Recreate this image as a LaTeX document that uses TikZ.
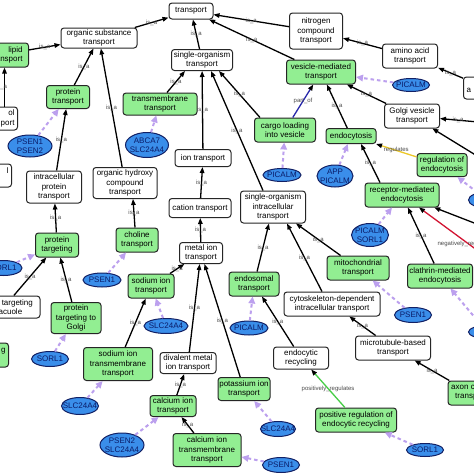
\documentclass[tikz,border=0pt]{standalone}
\usepackage{fontspec}
\setmainfont{Liberation Sans}
\usetikzlibrary{arrows.meta,shapes.geometric}
\definecolor{gogreen}{RGB}{146,238,146}
\definecolor{genefill}{RGB}{58,142,234}
\definecolor{genedraw}{RGB}{18,32,100}
\definecolor{genetext}{RGB}{10,28,105}
\definecolor{annot}{RGB}{188,160,238}
\definecolor{lblgray}{RGB}{75,75,75}
\definecolor{partof}{RGB}{40,40,170}
\definecolor{regyel}{RGB}{236,200,40}
\definecolor{posgreen}{RGB}{70,205,70}
\definecolor{negred}{RGB}{210,20,50}
\tikzset{
  term/.style={rectangle, rounded corners=3pt, draw=black!85, line width=1pt,
    font=\fontsize{8}{9.2}\selectfont, align=center, inner sep=1pt},
  wbox/.style={term, fill=white},
  gbox/.style={term, fill=gogreen},
  gene/.style={ellipse, draw=genedraw, fill=genefill, text=genetext, line width=1pt,
    inner xsep=-8pt, inner ysep=-4pt, font=\fontsize{8}{9.2}\selectfont, align=center},
  sz/.style 2 args={minimum width=#1pt, minimum height=#2pt},
  isa/.style={draw=black, line width=1.3pt, -{Triangle[length=6pt,width=4.5pt,color=black]}},
  ann/.style={draw=annot, line width=2pt, dash pattern=on 3.5pt off 3pt,
    -{Triangle[length=7pt,width=6.5pt]}},
  lbl/.style={font=\fontsize{6}{6}\selectfont, text=lblgray, inner sep=0.5pt},
}
\begin{document}
\begin{tikzpicture}[x=1pt,y=-1pt]
\useasboundingbox (0,0) rectangle (474,474);
\fill[white] (0,0) rectangle (474,474);
\clip (0,0) rectangle (474,474);

% ---- term nodes ----
\node[wbox, sz={44}{16}] (transport) at (191,11) {transport};
\node[wbox, sz={76}{20}] (orgsub) at (99,38) {organic substance\\transport};
\node[gbox, anchor=east, minimum height=24pt, text width=47pt, align=right, inner xsep=6pt] (lipid) at (29,55) {lipid\\transport};
\node[wbox, anchor=east, minimum height=23pt, text width=40pt, align=right, inner xsep=3pt] (olport) at (18,118.5) {ol\\port};
\node[wbox, anchor=east, minimum height=23pt, text width=40pt, align=right, inner xsep=3pt] (lbox) at (12,175.5) {l\hspace*{8pt}\\\mbox{}};
\node[gbox, sz={43}{23}] (ptrans) at (68,97) {protein\\transport};
\node[gbox, sz={74}{22}] (tmt) at (160,104) {transmembrane\\transport};
\node[wbox, sz={55}{32}] (icpt) at (54,187) {intracellular\\protein\\transport};
\node[wbox, sz={64}{31}] (ohc) at (125,183) {organic hydroxy\\compound\\transport};
\node[gbox, sz={43}{24}] (ptarg) at (57,245) {protein\\targeting};
\node[gbox, sz={42}{24}] (choline) at (137,240) {choline\\transport};
\node[gbox, sz={46}{24}] (sodium) at (151,286) {sodium ion\\transport};
\node[wbox, sz={72}{22}] (ptvac) at (4,307) {protein targeting\\to vacuole};
\node[gbox, sz={50}{31}] (ptgolgi) at (76,318) {protein\\targeting to\\Golgi};
\node[gbox, anchor=east, minimum height=24pt, text width=40pt, align=right, inner xsep=3pt] (gleft) at (9,355) {g\hspace*{1pt}\\\mbox{}};
\node[gbox, sz={69}{33}] (natm) at (118,364) {sodium ion\\transmembrane\\transport};
\node[wbox, sz={61}{21}] (sot) at (202,60) {single-organism\\transport};
\node[wbox, sz={53}{36}] (nitrogen) at (316,31) {nitrogen\\compound\\transport};
\node[gbox, sz={69}{24}] (vesicle) at (321,72) {vesicle-mediated\\transport};
\node[gbox, sz={61}{24}] (cargo) at (285,130) {cargo loading\\into vesicle};
\node[wbox, sz={56}{17}] (ion) at (203,158) {ion transport};
\node[wbox, sz={55}{24}] (amino) at (410,56) {amino acid\\transport};
\node[wbox, anchor=west, minimum height=22pt, text width=40pt, align=left, inner xsep=3pt] (rightA) at (463,88) {\mbox{}\\a};
\node[wbox, sz={55}{24}] (golgi) at (412,116) {Golgi vesicle\\transport};
\node[gbox, sz={50}{15}] (endo) at (351,136) {endocytosis};
\node[gbox, sz={50}{23}] (regendo) at (442,165) {regulation of\\endocytosis};
\node[wbox, sz={62}{19}] (cation) at (200,208) {cation transport};
\node[wbox, sz={43}{21}] (metal) at (201,253) {metal ion\\transport};
\node[wbox, sz={65}{32}] (soit) at (273,207) {single-organism\\intracellular\\transport};
\node[gbox, sz={50}{24}] (endosomal) at (254,284) {endosomal\\transport};
\node[wbox, sz={96}{24}] (cyto) at (332,304) {cytoskeleton-dependent\\intracellular transport};
\node[gbox, sz={74}{24}] (rme) at (402,195) {receptor-mediated\\endocytosis};
\node[gbox, sz={62}{24}] (mito) at (358,268) {mitochondrial\\transport};
\node[gbox, sz={65}{24}] (clathrin) at (440,276) {clathrin-mediated\\endocytosis};
\node[wbox, sz={56}{21}] (divalent) at (188,363) {divalent metal\\ion transport};
\node[gbox, sz={52}{23}] (potassium) at (244,389) {potassium ion\\transport};
\node[gbox, sz={46}{21}] (calcium) at (173,406) {calcium ion\\transport};
\node[gbox, sz={68}{33}] (catm) at (207,450) {calcium ion\\transmembrane\\transport};
\node[wbox, sz={55}{22}] (endrec) at (301,358) {endocytic\\recycling};
\node[wbox, sz={75}{24}] (microtub) at (393,348) {microtubule-based\\transport};
\node[gbox, sz={81}{24}] (posreg) at (356,420) {positive regulation of\\endocytic recycling};
\node[gbox, sz={46}{24}] (axon) at (471,393) {axon cargo\\transport};

% ---- gene products ----
\node[gene, sz={44}{22}] (psen12) at (30,146) {PSEN1\\PSEN2};
\node[gene, sz={43}{25}] (abca7) at (147,145) {ABCA7\\SLC24A4};
\node[gene, sz={37}{15}] (sorlL) at (3.5,268) {SORL1};
\node[gene, sz={38}{14}] (psen1b) at (102,280) {PSEN1};
\node[gene, sz={37}{15}] (sorl2) at (50,359) {SORL1};
\node[gene, sz={37}{17}] (slc2) at (80,406) {SLC24A4};
\node[gene, sz={44}{24}] (psen2slc) at (122,445) {PSEN2\\SLC24A4};
\node[gene, sz={37}{13}] (picalm1) at (411,85) {PICALM};
\node[gene, sz={38}{13}] (picalm2) at (282,175) {PICALM};
\node[gene, sz={36}{22}] (apppicalm) at (335,176) {APP\\PICALM};
\node[gene, sz={38}{14}] (picalm3) at (249,328) {PICALM};
\node[gene, sz={37}{23}] (picsorl) at (370,235) {PICALM\\SORL1};
\node[gene, sz={37}{15}] (psen1c) at (413,315) {PSEN1};
\node[gene, sz={37}{16}] (offb1) at (487,200) {};
\node[gene, sz={37}{13}] (offb2) at (487,332) {};
\node[gene, sz={44}{15}] (slc1) at (166,326) {SLC24A4};
\node[gene, sz={35}{15}] (slc3) at (278,429) {SLC24A4};
\node[gene, sz={37}{15}] (psen1d) at (281,465) {PSEN1};
\node[gene, sz={37}{13}] (sorl3) at (425,450) {SORL1};

% ---- off-picture ends ----
\coordinate (offNR) at (500,267);
\coordinate (offRME) at (500,233);
\coordinate (offG1) at (500,124);
\coordinate (offG2) at (500,170);

% ---- ontology relations ----
\draw[isa] (lipid) -- node[lbl]{is\_a} (orgsub);
\draw[isa] (orgsub) -- node[lbl]{is\_a} (transport);
\draw[isa] ([xshift=10pt]olport.north) -- node[lbl,xshift=-3pt]{is\_a} ([xshift=5.5pt]lipid.south);
\draw[isa] (ptrans) -- node[lbl]{is\_a} (orgsub);
\draw[isa] (ohc) -- node[lbl]{is\_a} (orgsub);
\draw[isa] (icpt) -- node[lbl]{is\_a} (ptrans);
\draw[isa] (ptarg) -- node[lbl]{is\_a} (icpt);
\draw[isa] (ptvac) -- node[lbl]{is\_a} (ptarg);
\draw[isa] (ptgolgi) -- node[lbl]{is\_a} (ptarg);
\draw[isa] ([xshift=-2pt]choline.north) -- node[lbl]{is\_a} ([xshift=8pt]ohc.south);
\draw[isa] (sot) -- node[lbl]{is\_a} (transport);
\draw[isa] (nitrogen) -- node[lbl]{is\_a} (transport);
\draw[isa] (vesicle) -- node[lbl]{is\_a} (transport);
\draw[isa] ([xshift=7pt]tmt.north) -- node[lbl]{is\_a} ([xshift=-17pt]sot.south);
\draw[isa] (ion) -- node[lbl]{is\_a} (sot);
\draw[isa] ([xshift=-10pt]soit.north) -- node[lbl]{is\_a} ([xshift=9pt]sot.south);
\draw[isa] ([xshift=-25pt]cargo.north) -- node[lbl]{is\_a} ([xshift=17pt]sot.south);
\draw[isa, draw=partof] (cargo) -- node[lbl]{part\_of} (vesicle);
\draw[isa] (amino) -- node[lbl]{is\_a} (nitrogen);
\draw[isa] (rightA) -- node[lbl]{is\_a} (amino);
\draw[isa] (golgi) -- node[lbl]{is\_a} (vesicle);
\draw[isa] (endo) -- node[lbl]{is\_a} (vesicle);
\draw[isa, draw=regyel] (regendo) -- node[lbl]{regulates} (endo);
\draw[isa] ([xshift=-22pt]rme.north) -- node[lbl]{is\_a} ([xshift=10pt]endo.south);
\draw[isa] (clathrin) -- node[lbl]{is\_a} (rme);
\draw[isa, draw=negred] (offNR) -- node[lbl, pos=0.43, yshift=-3pt]{negatively\_regulates} (rme);
\draw[isa] (offRME) -- (rme);
\draw[isa] (offG1) -- node[lbl, pos=0.7]{is\_a} (golgi);
\draw[isa] (offG2) -- (golgi);
\draw[isa] (endosomal) -- node[lbl]{is\_a} (soit);
\draw[isa] ([xshift=-10pt]cyto.north) -- node[lbl]{is\_a} ([xshift=14pt]soit.south);
\draw[isa] (mito) -- node[lbl]{is\_a} (soit);
\draw[isa] (endrec) -- node[lbl]{is\_a} (endosomal);
\draw[isa] (divalent) -- node[lbl]{is\_a} (metal);
\draw[isa] (potassium) -- node[lbl]{is\_a} (metal);
\draw[isa] (sodium) -- node[lbl]{is\_a} (metal);
\draw[isa] (cation) -- node[lbl]{is\_a} (ion);
\draw[isa] (metal) -- node[lbl]{is\_a} (cation);
\draw[isa] (natm) -- node[lbl]{is\_a} (sodium);
\draw[isa] (calcium) -- node[lbl]{is\_a} (divalent);
\draw[isa] (catm) -- node[lbl]{is\_a} (calcium);
\draw[isa] (microtub) -- node[lbl]{is\_a} (cyto);
\draw[isa] (axon) -- node[lbl]{is\_a} (microtub);
\draw[isa, draw=posgreen] (posreg) -- node[lbl]{positively\_regulates} (endrec);

% ---- annotations ----
\draw[ann] (psen12) -- (ptrans);
\draw[ann] (abca7) -- (tmt);
\draw[ann] (picalm1) -- (vesicle);
\draw[ann] (picalm2) -- (cargo);
\draw[ann] (apppicalm) -- (endo);
\draw[ann] (picsorl) -- (rme);
\draw[ann] (offb1) -- (regendo);
\draw[ann] (psen1c) -- (mito);
\draw[ann] (offb2) -- (clathrin);
\draw[ann] (sorlL) -- (ptarg);
\draw[ann] (psen1b) -- (choline);
\draw[ann] (slc1) -- (sodium);
\draw[ann] (picalm3) -- (endosomal);
\draw[ann] (sorl2) -- (ptgolgi);
\draw[ann] (slc2) -- (natm);
\draw[ann] (psen2slc) -- (calcium);
\draw[ann] (slc3) -- (potassium);
\draw[ann] (psen1d) -- (catm);
\draw[ann] (sorl3) -- (posreg);
\end{tikzpicture}
\end{document}
